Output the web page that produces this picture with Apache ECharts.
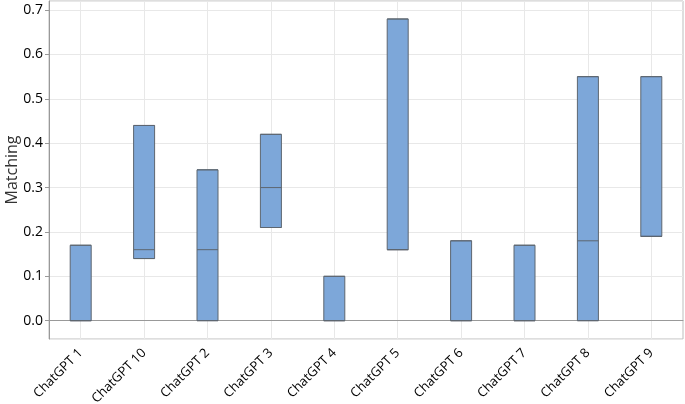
<!DOCTYPE html>
<html><head><meta charset="utf-8">
<script src="https://cdn.jsdelivr.net/npm/echarts@6/dist/echarts.min.js"></script>
<style>html,body{margin:0;padding:0;background:#fff}#c{width:685px;height:404px}</style>
</head><body><div id="c"></div>
<script>
const categories = ['ChatGPT 1','ChatGPT 10','ChatGPT 2','ChatGPT 3','ChatGPT 4','ChatGPT 5','ChatGPT 6','ChatGPT 7','ChatGPT 8','ChatGPT 9'];
const q1     = [0,    0.14, 0,    0.21, 0,    0.16, 0,    0,    0,    0.19];
const median = [0,    0.16, 0.16, 0.30, 0,    0.16, 0,    0,    0.18, 0.19];
const q3     = [0.17, 0.44, 0.34, 0.42, 0.10, 0.68, 0.18, 0.17, 0.55, 0.55];
const yTicks = [0, 0.1, 0.2, 0.3, 0.4, 0.5, 0.6, 0.7];

const data = categories.map((c, i) => [q1[i], q1[i], median[i], q3[i], q3[i]]);
const font = '"Open Sans", "Noto Sans", sans-serif';
const chart = echarts.init(document.getElementById('c'), null, {renderer: 'canvas'});
chart.setOption({
  animation: false,
  grid: {left: 49, right: 2, top: 1, bottom: 65, show: true, borderColor: '#bdbdbd', borderWidth: 1,
    containLabel: false, outerBoundsMode: 'none'},
  xAxis: {
    type: 'category', data: categories, boundaryGap: true,
    axisLine: {lineStyle: {color: '#999', width: 1}},
    axisTick: {alignWithLabel: true, length: 4, lineStyle: {color: '#999'}},
    splitLine: {show: true, alignWithLabel: true, lineStyle: {color: '#e8e8e8'}},
    axisLabel: {rotate: 45, fontSize: 13, color: '#000', fontFamily: font, margin: 12, interval: 0}
  },
  yAxis: {
    type: 'value', min: -0.0413, max: 0.7205, splitNumber: 7,
    name: 'Matching', nameLocation: 'middle', nameGap: 29, nameMoveOverlap: false,
    nameTextStyle: {fontSize: 16, color: '#333', fontFamily: font},
    axisLine: {show: true, lineStyle: {color: '#999'}},
    axisTick: {show: true, length: 4, lineStyle: {color: '#999'}},
    splitLine: {show: true, lineStyle: {color: '#e8e8e8'}},
    axisLabel: {fontSize: 14, color: '#000', fontFamily: font, margin: 6, showMinLabel: false, showMaxLabel: false,
      formatter: v => yTicks.some(t => Math.abs(t - v) < 1e-6) ? v.toFixed(1) : ''}
  },
  series: [{
    type: 'boxplot', data: data, boxWidth: [21, 21],
    itemStyle: {color: '#7da7d9', borderColor: '#5d6670', borderWidth: 1}
  }]
});
</script></body></html>
